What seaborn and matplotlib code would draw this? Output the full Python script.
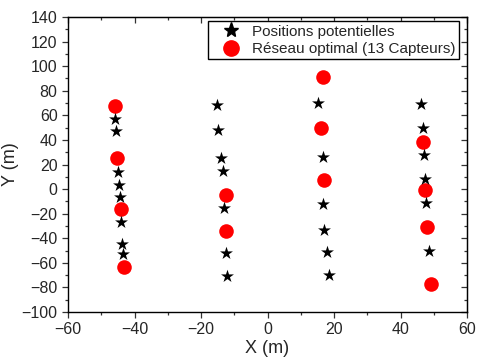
import numpy as np
import pandas as pd
import matplotlib
matplotlib.use("Agg")
import matplotlib.pyplot as plt
from matplotlib.ticker import MultipleLocator, NullFormatter
from matplotlib.lines import Line2D
import seaborn as sns

# potential sensor positions (stars)
pot_x = [-45.8, -45.6, -45.1, -44.6, -44.3, -44.1, -43.8, -43.5,
         -15.3, -14.8, -14.1, -13.5, -13.0, -12.5, -12.1,
         15.3, 16.8, 16.8, 17.1, 17.8, 18.4,
         46.3, 46.8, 47.0, 47.3, 47.6, 48.5]
pot_y = [56.8, 47.3, 14.2, 3.3, -6.7, -27.0, -44.7, -52.8,
         68.4, 48.1, 25.5, 14.7, -15.6, -52.2, -70.7,
         69.8, 25.9, -12.1, -33.3, -50.9, -69.9,
         69.2, 49.5, 27.7, 8.0, -11.6, -50.4]

# optimal network (13 sensors)
opt_x = [-45.8, -45.3, -44.1, -43.1,
         -12.6, -12.6,
         16.6, 16.1, 17.1,
         46.8, 47.5, 48.1, 49.1]
opt_y = [67.6, 25.1, -16.4, -63.1,
         -4.8, -34.1,
         91.5, 49.5, 7.4,
         38.6, -0.7, -30.6, -77.5]

label_pot = "Positions potentielles"
label_opt = "Réseau optimal (13 Capteurs)"

df_pot = pd.DataFrame({"x": pot_x, "y": pot_y})
df_opt = pd.DataFrame({"x": opt_x, "y": opt_y})

sns.set_style("ticks")
plt.rcParams["font.family"] = ["Liberation Sans", "DejaVu Sans"]

fig = plt.figure(figsize=(4.79, 3.6), dpi=100)
ax = fig.add_axes([0.142, 0.1333, 0.833, 0.8195])

# red circles first, stars drawn on top
sns.scatterplot(data=df_opt, x="x", y="y", ax=ax, marker="o", color="#ff0000",
                s=110, linewidth=0, zorder=2)
sns.scatterplot(data=df_pot, x="x", y="y", ax=ax, marker="*", color="black",
                s=95, linewidth=0, zorder=3)

ax.set_xlim(-60, 60)
ax.set_ylim(-100, 140)
ax.xaxis.set_major_locator(MultipleLocator(20))
ax.xaxis.set_minor_locator(MultipleLocator(10))
ax.yaxis.set_major_locator(MultipleLocator(20))
ax.yaxis.set_minor_locator(MultipleLocator(10))

for s in ax.spines.values():
    s.set_visible(True)
    s.set_linewidth(1.0)
    s.set_color("black")

ax.tick_params(which="both", labelsize=11.5, width=0.9, color="#333333", direction="out")
ax.tick_params(which="major", length=4)
ax.tick_params(which="minor", length=2.5)

# inward ticks on top and right, no labels
top = ax.secondary_xaxis("top")
top.xaxis.set_major_locator(MultipleLocator(20))
top.xaxis.set_minor_locator(MultipleLocator(10))
top.xaxis.set_major_formatter(NullFormatter())
right = ax.secondary_yaxis("right")
right.yaxis.set_major_locator(MultipleLocator(20))
right.yaxis.set_minor_locator(MultipleLocator(10))
right.yaxis.set_major_formatter(NullFormatter())
for sec in (top, right):
    sec.tick_params(which="both", direction="in", width=0.9, color="#333333")
    sec.tick_params(which="major", length=4)
    sec.tick_params(which="minor", length=2.5)

ax.set_xlabel("X (m)", fontsize=13, labelpad=2)
ax.set_ylabel("Y (m)", fontsize=13, labelpad=2)

handles = [
    Line2D([], [], marker="*", color="black", linestyle="none", markersize=11),
    Line2D([], [], marker="o", color="#ff0000", linestyle="none", markersize=11),
]
leg = ax.legend(handles, [label_pot, label_opt], loc="upper right",
                bbox_to_anchor=(1 - 8 / 399, 1 - 4.5 / 295),
                fontsize=11, frameon=True, fancybox=False, edgecolor="black",
                framealpha=1, borderpad=0.2, handlelength=2.6, handletextpad=0.1,
                labelspacing=0.25, borderaxespad=0)
leg.get_frame().set_linewidth(1.0)

fig.savefig("out.png", dpi=100)
